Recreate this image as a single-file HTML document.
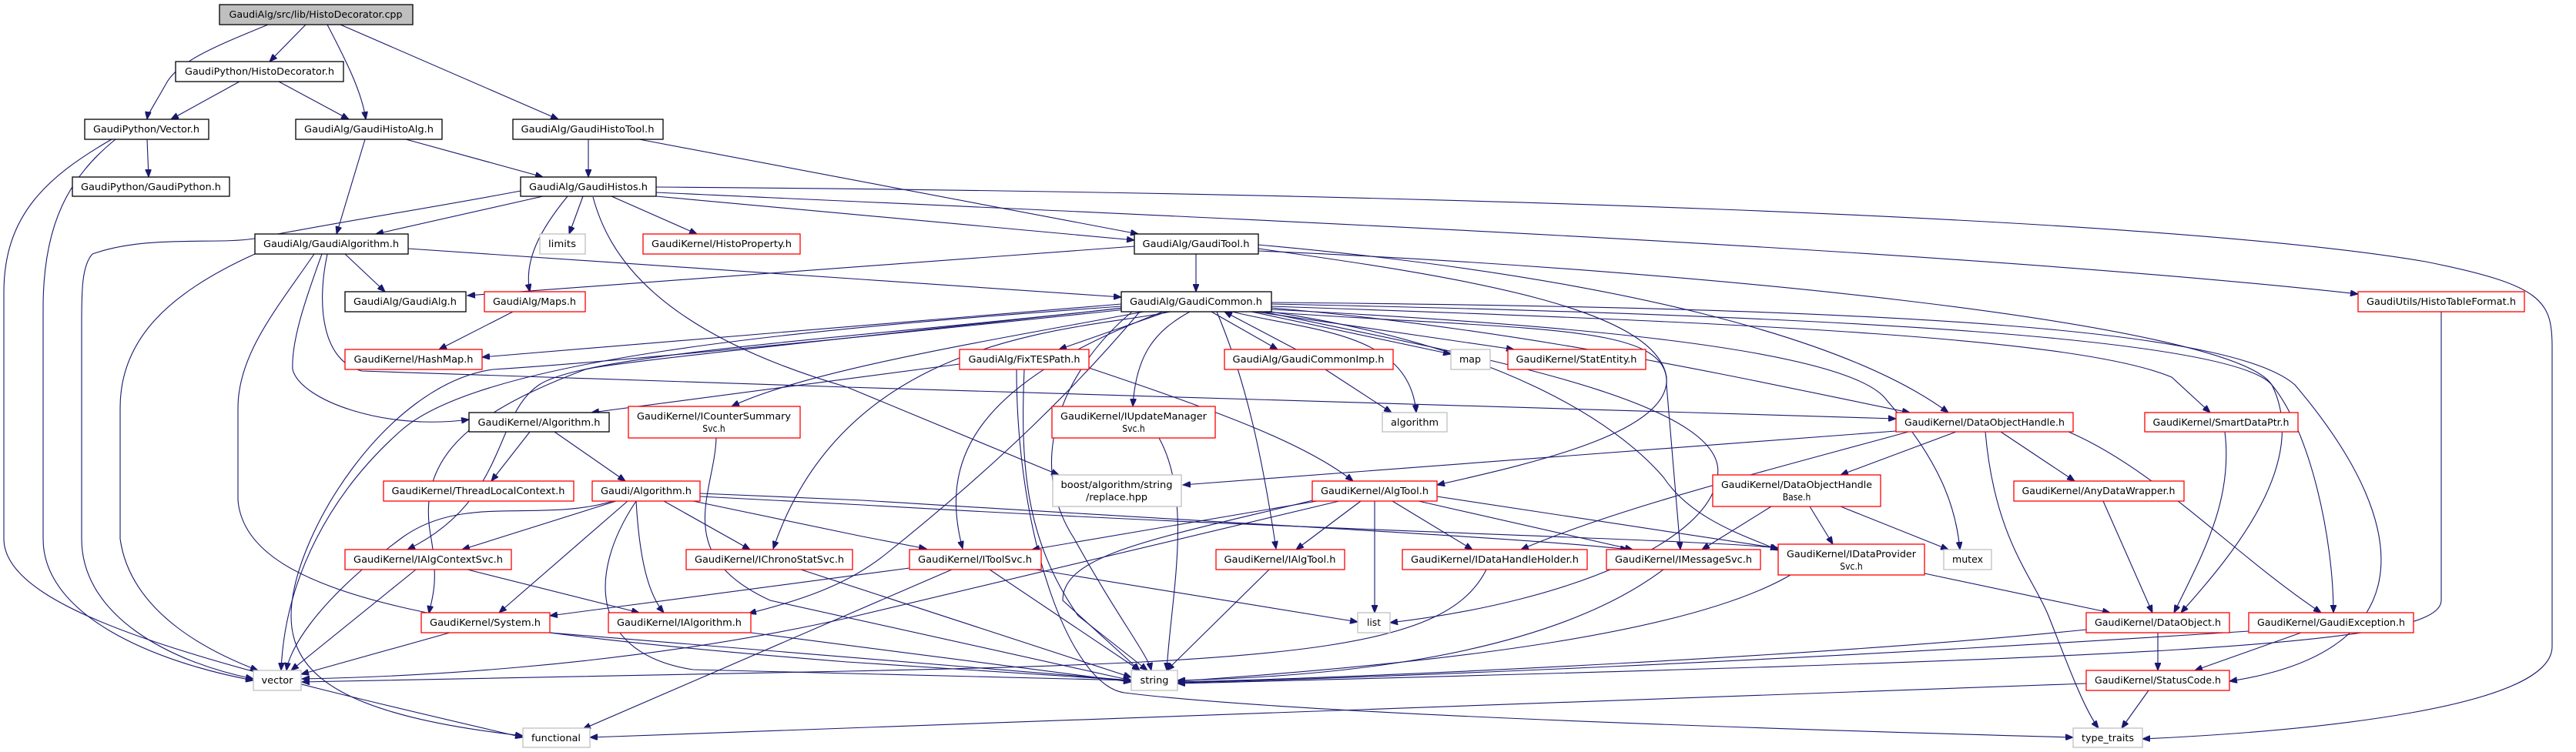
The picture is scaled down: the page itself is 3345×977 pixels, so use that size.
<!DOCTYPE html>
<html><head><meta charset="utf-8"><style>
html,body{margin:0;padding:0;background:#fff;}
svg{display:block}
text{font-family:"DejaVu Sans Condensed","DejaVu Sans","Liberation Sans",sans-serif;font-size:12px;fill:#000;text-anchor:middle}
.e{fill:none;stroke:#191970;stroke-width:1.1}
.k{fill:#fff;stroke:#000;stroke-width:1.3}
.r{fill:#fff;stroke:#ff0000;stroke-width:1.3}
.g{fill:#fff;stroke:#bfbfbf;stroke-width:1.3}
</style></head><body>
<svg width="3345" height="977" viewBox="0 0 3345 977" xmlns="http://www.w3.org/2000/svg">
<defs><marker id="a" markerWidth="11" markerHeight="8" refX="10" refY="4" orient="auto" markerUnits="userSpaceOnUse"><path d="M0,0 L10,4 L0,8 z" fill="#191970" stroke="#191970"/></marker></defs>
<g marker-end="url(#a)">
<path class="e" d="M397 32 L350 80"/>
<path class="e" d="M348 32 C280 60 230 80 215 110 C198 140 192 148 191 155"/>
<path class="e" d="M425 32 C450 80 470 120 475 155"/>
<path class="e" d="M442 32 L725 155"/>
<path class="e" d="M311 106 L222 155"/>
<path class="e" d="M362 106 L453 155"/>
<path class="e" d="M191 181 L193 230"/>
<path class="e" d="M150 181 C90 230 56 290 56 400 L56 700 C56 800 200 860 329 884"/>
<path class="e" d="M145 181 C60 230 5 280 5 380 L5 700 C5 800 300 870 679 958"/>
<path class="e" d="M474 181 L437 304"/>
<path class="e" d="M527 181 L705 230"/>
<path class="e" d="M764 181 L764 230"/>
<path class="e" d="M830 181 L1478 304"/>
<path class="e" d="M705 255 L488 304"/>
<path class="e" d="M757 255 L739 304"/>
<path class="e" d="M794 255 L905 304"/>
<path class="e" d="M737 255 C700 300 680 340 688 379"/>
<path class="e" d="M676 248 C560 270 430 290 330 310 C280 318 190 305 120 330 C106 345 106 380 106 420 L106 700 C106 800 220 860 329 882"/>
<path class="e" d="M770 256 C790 330 850 430 1100 503 L1375 617"/>
<path class="e" d="M852 255 L1473 312"/>
<path class="e" d="M852 250 C1500 280 2500 320 3062 382"/>
<path class="e" d="M852 243 C1800 250 2800 280 3150 340 C3300 370 3314 390 3314 450 L3314 840 C3314 920 3000 950 2782 960"/>
<path class="e" d="M448 330 L500 379"/>
<path class="e" d="M530 323 L1120 363 L1456 386"/>
<path class="e" d="M331 330 C220 380 156 440 156 530 L156 700 C170 800 280 850 335 871"/>
<path class="e" d="M408 330 C360 400 309 460 309 530 L309 650 C320 780 600 820 1100 860 L1469 884"/>
<path class="e" d="M418 330 C400 380 378 440 380 480 C390 520 500 560 609 545"/>
<path class="e" d="M425 330 C410 400 420 470 470 482 L1100 503 L2462 544"/>
<path class="e" d="M1473 320 L607 384"/>
<path class="e" d="M1553 330 L1553 379"/>
<path class="e" d="M1634 323 C1900 360 2150 400 2164 490 C2170 560 2000 600 1866 630"/>
<path class="e" d="M1634 318 C2100 360 2400 440 2530 536"/>
<path class="e" d="M1634 326 C2200 350 2900 420 2950 500 C3000 600 2900 720 2832 796"/>
<path class="e" d="M1456 395 L626 464"/>
<path class="e" d="M1456 398 C1000 430 620 470 520 560 C430 640 370 750 365 871"/>
<path class="e" d="M1470 405 C1380 480 1330 600 1395 700 C1450 800 1490 850 1495 871"/>
<path class="e" d="M1462 402 C1100 440 800 470 640 480 C500 500 378 700 378 800 C378 880 450 930 679 956"/>
<path class="e" d="M1460 400 C1100 440 760 460 700 500 C640 540 660 650 529 714"/>
<path class="e" d="M1458 400 C1100 440 800 470 760 480 C600 540 540 600 560 700 C570 760 560 780 557 797"/>
<path class="e" d="M1480 405 C1400 500 1300 600 1150 720 C1100 760 1040 780 972 797"/>
<path class="e" d="M1485 405 C1300 440 1050 480 950 528"/>
<path class="e" d="M1520 405 C1400 430 1100 430 1004 713"/>
<path class="e" d="M1510 405 C1260 500 1220 600 1250 713"/>
<path class="e" d="M1580 405 C1620 500 1640 600 1657 713"/>
<path class="e" d="M1515 405 L1375 454"/>
<path class="e" d="M1573 405 L1659 454"/>
<path class="e" d="M1683 454 L1590 405"/>
<path class="e" d="M1625 405 L1884 460"/>
<path class="e" d="M1630 405 L1966 454"/>
<path class="e" d="M1600 405 C1700 430 1830 430 1839 536"/>
<path class="e" d="M1721 480 L1807 536"/>
<path class="e" d="M1545 405 C1500 430 1475 460 1471 528"/>
<path class="e" d="M1651 400 C2000 430 2300 500 2480 536"/>
<path class="e" d="M1651 398 C2300 420 2700 440 2820 490 L2870 536"/>
<path class="e" d="M1651 395 C2400 410 2900 440 2950 500 C3000 560 3030 700 3030 796"/>
<path class="e" d="M1651 393 C2500 400 2900 430 2980 500 C3150 700 3130 850 2895 885"/>
<path class="e" d="M1640 405 C2000 430 2170 420 2164 500 L2182 714"/>
<path class="e" d="M1650 405 C1950 450 2100 550 2160 620 C2200 680 2280 700 2309 715"/>
<path class="e" d="M1640 405 C1900 460 2250 520 2230 620 C2220 700 2050 780 1805 809"/>
<path class="e" d="M1651 402 C2000 420 2400 450 2450 520 C2520 600 2540 660 2545 714"/>
<path class="e" d="M796 651 C700 680 600 640 520 700 C400 790 375 850 372 871"/>
<path class="e" d="M800 651 L600 714"/>
<path class="e" d="M815 651 L648 796"/>
<path class="e" d="M826 651 C830 720 840 770 862 796"/>
<path class="e" d="M862 651 L974 714"/>
<path class="e" d="M826 651 C760 750 770 850 900 870 L1469 884"/>
<path class="e" d="M900 651 L1120 697 L1203 713"/>
<path class="e" d="M909 641 L1120 650 C1600 680 2000 700 2114 714"/>
<path class="e" d="M909 645 L1120 656 C1700 690 2200 700 2309 712"/>
<path class="e" d="M1710 651 L1340 714"/>
<path class="e" d="M1767 651 L1683 714"/>
<path class="e" d="M1785 651 L1785 796"/>
<path class="e" d="M1808 651 L1912 714"/>
<path class="e" d="M1842 651 L2120 714"/>
<path class="e" d="M1866 645 L2320 714"/>
<path class="e" d="M1739 651 L1100 803 C800 870 500 880 392 882"/>
<path class="e" d="M1705 650 C1500 700 1380 720 1380 780 L1480 871"/>
<path class="e" d="M1246 473 L768 536"/>
<path class="e" d="M1414 478 C1600 540 1700 580 1757 625"/>
<path class="e" d="M1330 480 C1325 600 1330 700 1400 800 L1490 871"/>
<path class="e" d="M1320 480 C1320 700 1390 890 1460 900 C1700 930 2400 950 2692 958"/>
<path class="e" d="M666 405 L570 454"/>
<path class="e" d="M688 561 L638 625"/>
<path class="e" d="M720 561 L812 625"/>
<path class="e" d="M930 569 C928 640 870 720 1000 780 L1469 884"/>
<path class="e" d="M1505 569 C1550 650 1520 780 1515 871"/>
<path class="e" d="M540 740 L378 871"/>
<path class="e" d="M607 740 L830 796"/>
<path class="e" d="M1040 740 L1469 880"/>
<path class="e" d="M584 822 L391 876"/>
<path class="e" d="M714 822 L1469 884"/>
<path class="e" d="M975 822 L1469 886"/>
<path class="e" d="M1181 738 L714 800"/>
<path class="e" d="M1285 740 L1480 871"/>
<path class="e" d="M1345 740 L1763 808"/>
<path class="e" d="M1236 740 L757 947"/>
<path class="e" d="M1648 740 L1515 871"/>
<path class="e" d="M1930 740 C1880 840 1700 860 1100 872 L392 886"/>
<path class="e" d="M2160 740 C2000 860 1700 880 1529 884"/>
<path class="e" d="M2325 747 C2200 820 1900 860 1529 885"/>
<path class="e" d="M2499 745 L2740 796"/>
<path class="e" d="M2462 560 L1536 630"/>
<path class="e" d="M2478 561 C2300 610 2100 660 1975 714"/>
<path class="e" d="M2540 561 L2390 617"/>
<path class="e" d="M2598 561 L2694 625"/>
<path class="e" d="M2686 561 C2800 610 2900 720 3014 796"/>
<path class="e" d="M2578 561 C2590 700 2640 750 2660 800 C2680 850 2705 920 2725 946"/>
<path class="e" d="M2300 658 L2210 714"/>
<path class="e" d="M2350 658 L2380 707"/>
<path class="e" d="M2390 658 L2530 714"/>
<path class="e" d="M2731 651 L2795 796"/>
<path class="e" d="M2889 561 C2900 650 2860 720 2823 796"/>
<path class="e" d="M2802 822 L2802 871"/>
<path class="e" d="M2709 818 C2400 850 1800 880 1529 886"/>
<path class="e" d="M2988 822 L2850 871"/>
<path class="e" d="M2920 820 C2300 860 1800 880 1529 887"/>
<path class="e" d="M2790 897 L2755 946"/>
<path class="e" d="M2709 888 L766 958"/>
<path class="e" d="M3170 405 L3170 780 C3170 840 2800 855 1529 888"/>
</g>
<!-- nodes -->
<rect x="285" y="6" width="251" height="26" fill="#bfbfbf" stroke="#000" stroke-width="1.3"/><text x="410" y="23" textLength="225" lengthAdjust="spacingAndGlyphs">GaudiAlg/src/lib/HistoDecorator.cpp</text>
<rect class="k" x="228" y="80" width="218" height="26"/><text x="337" y="97" textLength="194" lengthAdjust="spacingAndGlyphs">GaudiPython/HistoDecorator.h</text>
<rect class="k" x="110" y="155" width="161" height="26"/><text x="190" y="172" textLength="138" lengthAdjust="spacingAndGlyphs">GaudiPython/Vector.h</text>
<rect class="k" x="384" y="155" width="190" height="26"/><text x="479" y="172" textLength="168" lengthAdjust="spacingAndGlyphs">GaudiAlg/GaudiHistoAlg.h</text>
<rect class="k" x="666" y="155" width="195" height="26"/><text x="763" y="172" textLength="173" lengthAdjust="spacingAndGlyphs">GaudiAlg/GaudiHistoTool.h</text>
<rect class="k" x="94" y="230" width="204" height="25"/><text x="196" y="247" textLength="182" lengthAdjust="spacingAndGlyphs">GaudiPython/GaudiPython.h</text>
<rect class="k" x="676" y="230" width="176" height="25"/><text x="764" y="247" textLength="154" lengthAdjust="spacingAndGlyphs">GaudiAlg/GaudiHistos.h</text>
<rect class="k" x="331" y="304" width="199" height="26"/><text x="430" y="321" textLength="176" lengthAdjust="spacingAndGlyphs">GaudiAlg/GaudiAlgorithm.h</text>
<rect class="g" x="701" y="304" width="59" height="26"/><text x="730" y="321" textLength="36" lengthAdjust="spacingAndGlyphs">limits</text>
<rect class="r" x="835" y="304" width="204" height="26"/><text x="937" y="321" textLength="182" lengthAdjust="spacingAndGlyphs">GaudiKernel/HistoProperty.h</text>
<rect class="k" x="1473" y="304" width="161" height="26"/><text x="1553" y="321" textLength="139" lengthAdjust="spacingAndGlyphs">GaudiAlg/GaudiTool.h</text>
<rect class="k" x="448" y="379" width="157" height="26"/><text x="526" y="396" textLength="134" lengthAdjust="spacingAndGlyphs">GaudiAlg/GaudiAlg.h</text>
<rect class="r" x="629" y="379" width="131" height="26"/><text x="694" y="396" textLength="108" lengthAdjust="spacingAndGlyphs">GaudiAlg/Maps.h</text>
<rect class="k" x="1456" y="379" width="195" height="26"/><text x="1553" y="396" textLength="172" lengthAdjust="spacingAndGlyphs">GaudiAlg/GaudiCommon.h</text>
<rect class="r" x="3062" y="379" width="216" height="26"/><text x="3170" y="396" textLength="194" lengthAdjust="spacingAndGlyphs">GaudiUtils/HistoTableFormat.h</text>
<rect class="r" x="448" y="454" width="178" height="26"/><text x="537" y="471" textLength="155" lengthAdjust="spacingAndGlyphs">GaudiKernel/HashMap.h</text>
<rect class="r" x="1246" y="454" width="168" height="26"/><text x="1330" y="471" textLength="145" lengthAdjust="spacingAndGlyphs">GaudiAlg/FixTESPath.h</text>
<rect class="r" x="1590" y="454" width="219" height="26"/><text x="1699" y="471" textLength="197" lengthAdjust="spacingAndGlyphs">GaudiAlg/GaudiCommonImp.h</text>
<rect class="g" x="1884" y="454" width="51" height="26"/><text x="1909" y="471" textLength="28" lengthAdjust="spacingAndGlyphs">map</text>
<rect class="r" x="1958" y="454" width="179" height="26"/><text x="2047" y="471" textLength="157" lengthAdjust="spacingAndGlyphs">GaudiKernel/StatEntity.h</text>
<rect class="k" x="609" y="536" width="182" height="25"/><text x="700" y="553" textLength="159" lengthAdjust="spacingAndGlyphs">GaudiKernel/Algorithm.h</text>
<rect class="r" x="816" y="528" width="223" height="41"/><text x="927" y="545" textLength="200" lengthAdjust="spacingAndGlyphs">GaudiKernel/ICounterSummary</text><text x="927" y="561">Svc.h</text>
<rect class="r" x="1366" y="528" width="212" height="41"/><text x="1472" y="545" textLength="190" lengthAdjust="spacingAndGlyphs">GaudiKernel/IUpdateManager</text><text x="1472" y="561">Svc.h</text>
<rect class="g" x="1795" y="536" width="84" height="25"/><text x="1837" y="553" textLength="62" lengthAdjust="spacingAndGlyphs">algorithm</text>
<rect class="r" x="2462" y="536" width="230" height="25"/><text x="2577" y="553" textLength="208" lengthAdjust="spacingAndGlyphs">GaudiKernel/DataObjectHandle.h</text>
<rect class="r" x="2785" y="536" width="199" height="25"/><text x="2884" y="553" textLength="177" lengthAdjust="spacingAndGlyphs">GaudiKernel/SmartDataPtr.h</text>
<rect class="g" x="1367" y="617" width="167" height="41"/><text x="1450" y="634" textLength="145" lengthAdjust="spacingAndGlyphs">boost/algorithm/string</text><text x="1450" y="650" textLength="80" lengthAdjust="spacingAndGlyphs">/replace.hpp</text>
<rect class="r" x="2224" y="617" width="218" height="41"/><text x="2333" y="634" textLength="196" lengthAdjust="spacingAndGlyphs">GaudiKernel/DataObjectHandle</text><text x="2333" y="650">Base.h</text>
<rect class="r" x="498" y="625" width="247" height="26"/><text x="621" y="642" textLength="225" lengthAdjust="spacingAndGlyphs">GaudiKernel/ThreadLocalContext.h</text>
<rect class="r" x="769" y="625" width="140" height="26"/><text x="839" y="642" textLength="118" lengthAdjust="spacingAndGlyphs">Gaudi/Algorithm.h</text>
<rect class="r" x="1704" y="625" width="162" height="26"/><text x="1785" y="642" textLength="140" lengthAdjust="spacingAndGlyphs">GaudiKernel/AlgTool.h</text>
<rect class="r" x="2615" y="625" width="221" height="26"/><text x="2725" y="642" textLength="199" lengthAdjust="spacingAndGlyphs">GaudiKernel/AnyDataWrapper.h</text>
<rect class="r" x="448" y="714" width="216" height="26"/><text x="556" y="731" textLength="194" lengthAdjust="spacingAndGlyphs">GaudiKernel/IAlgContextSvc.h</text>
<rect class="r" x="891" y="714" width="216" height="26"/><text x="999" y="731" textLength="194" lengthAdjust="spacingAndGlyphs">GaudiKernel/IChronoStatSvc.h</text>
<rect class="r" x="1181" y="714" width="171" height="26"/><text x="1266" y="731" textLength="148" lengthAdjust="spacingAndGlyphs">GaudiKernel/IToolSvc.h</text>
<rect class="r" x="1579" y="714" width="167" height="26"/><text x="1662" y="731" textLength="145" lengthAdjust="spacingAndGlyphs">GaudiKernel/IAlgTool.h</text>
<rect class="r" x="1821" y="714" width="240" height="26"/><text x="1941" y="731" textLength="218" lengthAdjust="spacingAndGlyphs">GaudiKernel/IDataHandleHolder.h</text>
<rect class="r" x="2086" y="714" width="200" height="26"/><text x="2186" y="731" textLength="178" lengthAdjust="spacingAndGlyphs">GaudiKernel/IMessageSvc.h</text>
<rect class="r" x="2309" y="707" width="190" height="40"/><text x="2404" y="724" textLength="168" lengthAdjust="spacingAndGlyphs">GaudiKernel/IDataProvider</text><text x="2404" y="740">Svc.h</text>
<rect class="g" x="2524" y="714" width="62" height="26"/><text x="2555" y="731" textLength="40" lengthAdjust="spacingAndGlyphs">mutex</text>
<rect class="r" x="547" y="796" width="167" height="26"/><text x="630" y="813" textLength="144" lengthAdjust="spacingAndGlyphs">GaudiKernel/System.h</text>
<rect class="r" x="790" y="796" width="185" height="26"/><text x="882" y="813" textLength="162" lengthAdjust="spacingAndGlyphs">GaudiKernel/IAlgorithm.h</text>
<rect class="g" x="1763" y="796" width="42" height="26"/><text x="1784" y="813" textLength="18" lengthAdjust="spacingAndGlyphs">list</text>
<rect class="r" x="2709" y="796" width="186" height="26"/><text x="2802" y="813" textLength="164" lengthAdjust="spacingAndGlyphs">GaudiKernel/DataObject.h</text>
<rect class="r" x="2920" y="796" width="214" height="26"/><text x="3027" y="813" textLength="192" lengthAdjust="spacingAndGlyphs">GaudiKernel/GaudiException.h</text>
<rect class="g" x="329" y="871" width="62" height="26"/><text x="360" y="888" textLength="41" lengthAdjust="spacingAndGlyphs">vector</text>
<rect class="g" x="1469" y="871" width="60" height="26"/><text x="1499" y="888" textLength="37" lengthAdjust="spacingAndGlyphs">string</text>
<rect class="r" x="2709" y="871" width="186" height="26"/><text x="2802" y="888" textLength="164" lengthAdjust="spacingAndGlyphs">GaudiKernel/StatusCode.h</text>
<rect class="g" x="679" y="946" width="87" height="25"/><text x="722" y="963" textLength="64" lengthAdjust="spacingAndGlyphs">functional</text>
<rect class="g" x="2692" y="946" width="90" height="25"/><text x="2737" y="963" textLength="68" lengthAdjust="spacingAndGlyphs">type_traits</text>
</svg>
</body></html>
